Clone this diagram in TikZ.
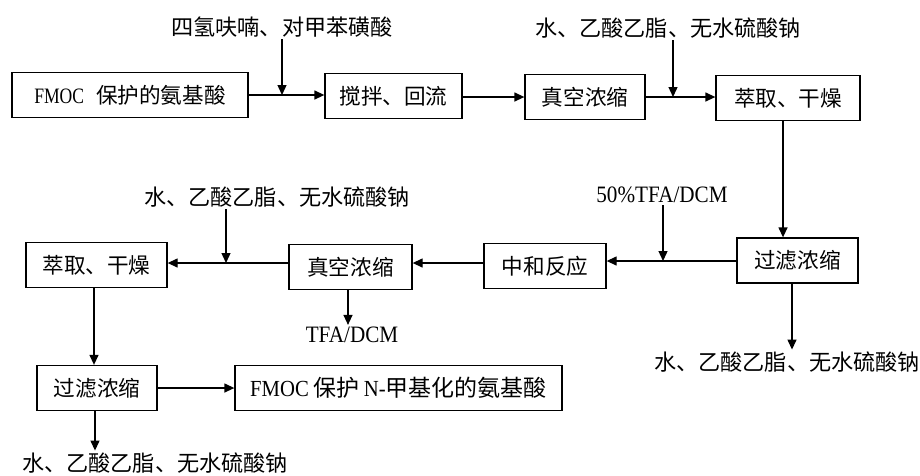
\documentclass[tikz,border=0pt]{standalone}
\usepackage{graphicx}
\usepackage{fontspec}
\setmainfont{Liberation Serif}
\newfontfamily\cjk[Scale=1.08]{Noto Sans CJK SC}
\newcommand\latsm[1]{\scalebox{0.8}[1]{\fontsize{22}{24}\selectfont #1}}
\newcommand\latmd[1]{\scalebox{0.9}[1]{\fontsize{23}{26}\selectfont #1}}
\newcommand\latlb[1]{\scalebox{0.9}[1]{\fontsize{23.5}{26}\selectfont #1}}
\usetikzlibrary{arrows.meta}
\begin{document}
\begin{tikzpicture}[x=1pt,y=-1pt,
  box/.style={draw,line width=1.3pt,minimum height=45pt,inner sep=0pt,font=\fontsize{20}{24}\selectfont},
  lbl/.style={inner sep=2pt,font=\fontsize{20.5}{24}\selectfont},
  clbl/.style={inner sep=2pt,font=\fontsize{20.5}{24}\selectfont},
  arr/.style={line width=1.3pt,-{Triangle[length=10pt,width=9pt]}}]
\useasboundingbox (0,0) rectangle (920,475);
% row 1
\node[box,minimum width=236pt] (b1) at (130,95) {\latsm{FMOC}\hspace{12pt}{\cjk 保护的氨基酸}\hspace{4pt}};
\node[box,minimum width=137pt] (b2) at (393.5,96) {\cjk 搅拌、回流};
\node[box,minimum width=120pt] (b3) at (585,97) {\cjk 真空浓缩};
\node[box,minimum width=144pt] (b4) at (788,98) {\cjk 萃取、干燥};
% row 2
\node[box,minimum width=121pt] (b5) at (797.5,260.5) {\cjk 过滤浓缩};
\node[box,minimum width=122pt] (b6) at (545,266) {\cjk 中和反应};
\node[box,minimum width=123pt] (b7) at (350.5,267) {\cjk 真空浓缩};
\node[box,minimum width=141pt] (b8) at (96.5,265) {\cjk 萃取、干燥};
% row 3
\node[box,minimum width=120pt] (b9) at (97,388) {\cjk 过滤浓缩};
\node[box,minimum width=327pt,font=\fontsize{21.3}{24}\selectfont] (b10) at (398.5,388) {\latmd{FMOC}\hspace{5pt}{\cjk 保护}\hspace{4pt}\latmd{N-}{\cjk 甲基化的氨基酸}};
% labels
\node[clbl] (l1) at (282,27) {\cjk 四氢呋喃、对甲苯磺酸};
\node[clbl] (l2) at (668,28) {\cjk 水、乙酸乙脂、无水硫酸钠};
\node[lbl] (l3) at (662,195) {\latlb{50\%TFA/DCM}};
\node[clbl] (l4) at (787,362) {\cjk 水、乙酸乙脂、无水硫酸钠};
\node[clbl] (l5) at (277,197) {\cjk 水、乙酸乙脂、无水硫酸钠};
\node[lbl] (l6) at (352,335) {\latlb{TFA/DCM}};
\node[clbl] (l7) at (155,463) {\cjk 水、乙酸乙脂、无水硫酸钠};
% junctions
\coordinate (j1) at (282,95);
\coordinate (j2) at (673,97);
\coordinate (j3) at (663,261);
\coordinate (j4) at (226,263);
% row 1 connectors
\draw[arr] (b1.east |- j1) -- (b2.west |- j1);
\draw[arr] (l1.south -| j1) -- (j1);
\draw[arr] (b2.east |- 0,97) -- (b3.west |- 0,97);
\draw[arr] (b3.east |- j2) -- (b4.west |- j2);
\draw[arr] (l2.south -| j2) -- (j2);
% down to row 2
\draw[arr] (b4.south -| 783,0) -- (b5.north -| 783,0);
\draw[arr] (b5.west |- j3) -- (b6.east |- j3);
\draw[arr] (l3.south -| j3) -- (j3);
\draw[arr] (b5.south -| 792,0) -- (l4.north -| 792,0);
\draw[arr] (b6.west |- 0,263) -- (b7.east |- 0,263);
\draw[arr] (b7.west |- j4) -- (b8.east |- j4);
\draw[arr] (l5.south -| j4) -- (j4);
\draw[arr] (b7.south -| 348,0) -- (l6.north -| 348,0);
% down to row 3
\draw[arr] (b8.south -| 94,0) -- (b9.north -| 94,0);
\draw[arr] (b9.east) -- (b10.west);
\draw[arr] (b9.south -| 95,0) -- (l7.north -| 95,0);
\end{tikzpicture}
\end{document}
